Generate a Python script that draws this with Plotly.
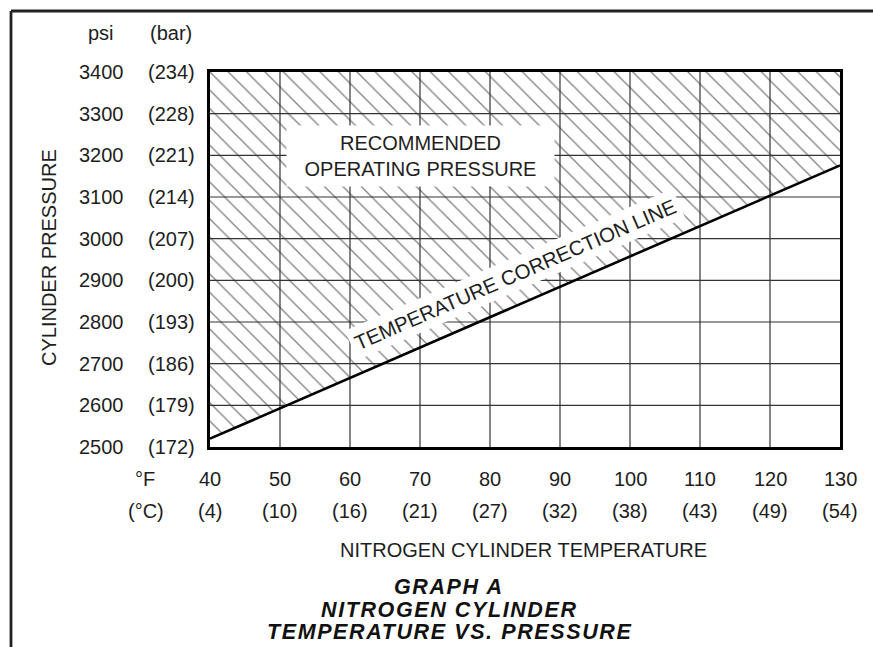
import plotly.graph_objects as go

# ---------------- data ----------------
temps_f = [40, 50, 60, 70, 80, 90, 100, 110, 120, 130]
temps_c_labels = ["(4)", "(10)", "(16)", "(21)", "(27)", "(32)", "(38)", "(43)", "(49)", "(54)"]
psi_ticks = [2500, 2600, 2700, 2800, 2900, 3000, 3100, 3200, 3300, 3400]
bar_labels = ["(172)", "(179)", "(186)", "(193)", "(200)", "(207)", "(214)", "(221)", "(228)", "(234)"]
correction_temp = [40, 130]
correction_psi = [2520, 3176]

# ---------------- layout constants ----------------
W, H = 873, 647
L, R, T, B = 210, 33, 72, 200
PW, PH = W - L - R, H - T - B
FONT = "Liberation Sans"
TXT = "#1e1e1e"
FS = 20


def px_x(p):
    return (p - L) / PW


def px_y(p):
    return (H - B - p) / PH


xmin, xmax = temps_f[0], temps_f[-1]
ymin, ymax = psi_ticks[0], psi_ticks[-1]

fig = go.Figure()

# hatched region above the correction line
fig.add_trace(go.Scatter(
    x=[correction_temp[0], correction_temp[1], correction_temp[1], correction_temp[0]],
    y=[correction_psi[0], correction_psi[1], ymax, ymax],
    fill="toself", mode="none", fillcolor="white",
    fillpattern=dict(shape="\\", size=13, solidity=0.1, fgcolor="black", bgcolor="white"),
    hoverinfo="skip", showlegend=False,
))

# grid lines (drawn above hatching)
gx, gy = [], []
for t in temps_f[1:-1]:
    gx += [t, t, None]
    gy += [ymin, ymax, None]
for p in psi_ticks[1:-1]:
    gx += [xmin, xmax, None]
    gy += [p, p, None]
fig.add_trace(go.Scatter(x=gx, y=gy, mode="lines", line=dict(color="#333333", width=1.2),
                         hoverinfo="skip", showlegend=False))

# temperature correction line
fig.add_trace(go.Scatter(x=correction_temp, y=correction_psi, mode="lines",
                         line=dict(color="black", width=2.6), hoverinfo="skip", showlegend=False))

ann = []
# y tick labels (psi & bar)
ann.append(dict(x=px_x(101), y=px_y(33), xref="paper", yref="paper", text="psi", showarrow=False,
                xanchor="center", yanchor="middle", font=dict(size=FS, color=TXT, family=FONT)))
ann.append(dict(x=px_x(171), y=px_y(33), xref="paper", yref="paper", text="(bar)", showarrow=False,
                xanchor="center", yanchor="middle", font=dict(size=FS, color=TXT, family=FONT)))
for p, b in zip(psi_ticks, bar_labels):
    ann.append(dict(x=px_x(101), y=p, xref="paper", yref="y", text=str(p), showarrow=False,
                    xanchor="center", yanchor="middle", font=dict(size=FS, color=TXT, family=FONT)))
    ann.append(dict(x=px_x(171), y=p, xref="paper", yref="y", text=b, showarrow=False,
                    xanchor="center", yanchor="middle", font=dict(size=FS, color=TXT, family=FONT)))

# x tick labels (°F & °C)
ann.append(dict(x=px_x(145), y=px_y(479), xref="paper", yref="paper", text="°F", showarrow=False,
                xanchor="center", yanchor="middle", font=dict(size=FS, color=TXT, family=FONT)))
ann.append(dict(x=px_x(146), y=px_y(511), xref="paper", yref="paper", text="(°C)", showarrow=False,
                xanchor="center", yanchor="middle", font=dict(size=FS, color=TXT, family=FONT)))
for t, c in zip(temps_f, temps_c_labels):
    ann.append(dict(x=t, y=px_y(479), xref="x", yref="paper", text=str(t), showarrow=False,
                    xanchor="center", yanchor="middle", font=dict(size=FS, color=TXT, family=FONT)))
    ann.append(dict(x=t, y=px_y(511), xref="x", yref="paper", text=c, showarrow=False,
                    xanchor="center", yanchor="middle", font=dict(size=FS, color=TXT, family=FONT)))

# axis titles
ann.append(dict(x=px_x(49), y=px_y(258), xref="paper", yref="paper", text="CYLINDER PRESSURE", textangle=-90,
                showarrow=False, xanchor="center", yanchor="middle",
                font=dict(size=FS, color=TXT, family=FONT)))
ann.append(dict(x=px_x(523.5), y=px_y(550), xref="paper", yref="paper", text="NITROGEN CYLINDER TEMPERATURE",
                showarrow=False, xanchor="center", yanchor="middle",
                font=dict(size=FS, color=TXT, family=FONT)))

# in-plot labels
ann.append(dict(x=70, y=3198, xref="x", yref="y", text="RECOMMENDED<br>OPERATING PRESSURE",
                showarrow=False, xanchor="center", yanchor="middle", align="center",
                bgcolor="white", borderpad=5, width=257, height=50,
                font=dict(size=FS, color=TXT, family=FONT)))
ann.append(dict(x=83.5, y=2915, xref="x", yref="y", text="TEMPERATURE CORRECTION LINE",
                showarrow=False, xanchor="center", yanchor="middle", textangle=-23.5,
                bgcolor="white", borderpad=4,
                font=dict(size=20.5, color=TXT, family=FONT)))

# title lines
title_lines = ["GRAPH A", "NITROGEN CYLINDER", "TEMPERATURE VS. PRESSURE"]
title_y = [587, 609.5, 632]
for line, yy in zip(title_lines, title_y):
    ann.append(dict(x=px_x(449), y=px_y(yy), xref="paper", yref="paper",
                    text='<span style="letter-spacing:1.6px">' + line + "</span>",
                    showarrow=False, xanchor="center", yanchor="middle",
                    font=dict(size=21.5, color="#111", family=FONT, weight="bold", style="italic")))

# outer frame (top and left)
shapes = [
    dict(type="line", xref="paper", yref="paper", x0=px_x(11), x1=px_x(W + 5), y0=px_y(11), y1=px_y(11),
         line=dict(color="#222", width=2.8)),
    dict(type="line", xref="paper", yref="paper", x0=px_x(11), x1=px_x(11), y0=px_y(11), y1=px_y(H + 5),
         line=dict(color="#222", width=2.8)),
]

axis_common = dict(showgrid=False, zeroline=False, showticklabels=False, ticks="",
                   showline=True, mirror=True, linecolor="black", linewidth=2.6, layer="above traces",
                   fixedrange=True)

fig.update_layout(
    width=W, height=H,
    margin=dict(l=L, r=R, t=T, b=B, pad=0),
    paper_bgcolor="white", plot_bgcolor="white",
    xaxis=dict(range=[xmin, xmax], **axis_common),
    yaxis=dict(range=[ymin, ymax], **axis_common),
    annotations=ann, shapes=shapes,
    showlegend=False,
)

fig.write_html(
    "out.html",
    config={"displayModeBar": False},
    post_script="document.body.style.margin='0';document.body.style.overflow='hidden';",
)
